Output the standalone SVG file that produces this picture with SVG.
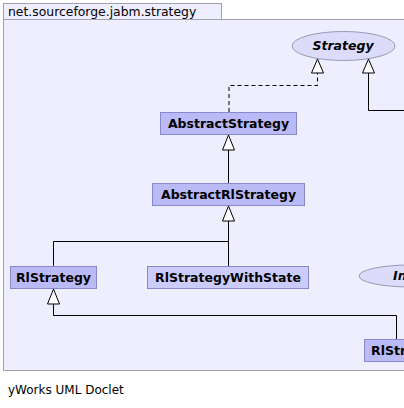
<svg xmlns="http://www.w3.org/2000/svg" width="404" height="408" viewBox="0 0 404 408">
<style>
.frame{fill:#eeeeff;stroke:#a0a0b0;stroke-width:1}
.cls{stroke:#8888cc;stroke-width:1}
.dark{fill:#babaf6}
.light{fill:#ccccfc}
.ell{fill:#dcdcfa;stroke:#9a9ab8;stroke-width:1}
.lbl{font-family:"DejaVu Sans",sans-serif;font-size:12.5px;font-weight:bold;fill:#000;text-anchor:middle}
.ital{font-style:italic}
.plain{font-family:"DejaVu Sans",sans-serif;font-size:12px;fill:#000}
.edge{fill:none;stroke:#000;stroke-width:1}
.dash{stroke-dasharray:4,3}
.head{fill:#fff;stroke:#000;stroke-width:1}
</style>
<rect x="0" y="0" width="404" height="408" fill="#fff"/>
<g id="package">
<rect class="frame" x="3.5" y="3.5" width="218" height="16"/>
<rect class="frame" x="3.5" y="19.5" width="410" height="351"/>
<text class="plain" x="8" y="16" style="font-size:12.4px">net.sourceforge.jabm.strategy</text>
</g>
<g id="connectors">
<path class="edge dash" d="M229,112 V85.5 H317.5 V73"/>
<path class="edge" d="M404,110.5 H368.5 V73"/>
<path class="edge" d="M228.5,183 V150"/>
<path class="edge" d="M228.5,266 V241.5 H53.5 V266"/>
<path class="edge" d="M228.5,241.5 V221"/>
<path class="edge" d="M396.5,339 V315.5 H53.5 V304"/>
<path class="head" d="M317.5,59 L323.5,73 L311.5,73 Z"/>
<path class="head" d="M368.5,59 L374.5,73 L362.5,73 Z"/>
<path class="head" d="M228.5,135 L234.5,150 L222.5,150 Z"/>
<path class="head" d="M228.5,206 L234.5,221 L222.5,221 Z"/>
<path class="head" d="M53.5,289 L59.5,304 L47.5,304 Z"/>
</g>
<g id="Strategy">
<ellipse class="ell" cx="343.5" cy="46" rx="51.5" ry="14.5"/>
<text class="lbl ital" x="343" y="50">Strategy</text>
</g>
<g id="AbstractStrategy">
<rect class="cls dark" x="160.5" y="112.5" width="136" height="22"/>
<text class="lbl" x="228.5" y="128">AbstractStrategy</text>
</g>
<g id="AbstractRlStrategy">
<rect class="cls dark" x="152.5" y="183.5" width="152" height="22"/>
<text class="lbl" x="228.5" y="199">AbstractRlStrategy</text>
</g>
<g id="RlStrategy">
<rect class="cls dark" x="10.5" y="266.5" width="86" height="22"/>
<text class="lbl" x="53.5" y="282">RlStrategy</text>
</g>
<g id="RlStrategyWithState">
<rect class="cls light" x="147.5" y="266.5" width="161" height="22"/>
<text class="lbl" x="228" y="282">RlStrategyWithState</text>
</g>
<g id="Interface">
<ellipse class="ell" cx="410" cy="276" rx="51" ry="11"/>
<text class="lbl ital" x="393" y="280" style="text-anchor:start">In</text>
</g>
<g id="RlStr">
<rect class="cls dark" x="364.5" y="339.5" width="80" height="22"/>
<text class="lbl" x="371" y="355" style="text-anchor:start">RlStr</text>
</g>
<text class="plain" x="8" y="394">yWorks UML Doclet</text>
</svg>
